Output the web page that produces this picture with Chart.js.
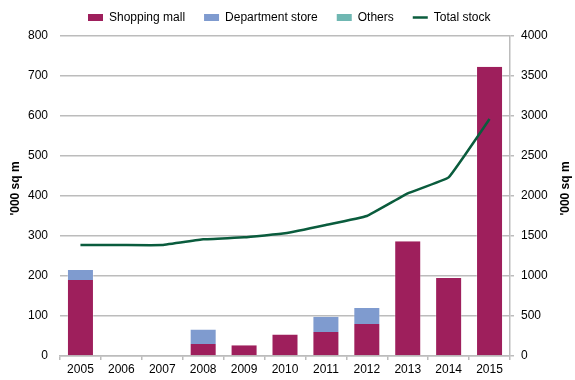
<!DOCTYPE html>
<html><head><meta charset="utf-8">
<script src="https://cdn.jsdelivr.net/npm/chart.js@4.4.0/dist/chart.umd.min.js"></script>
<style>html,body{margin:0;padding:0;background:#fff;}#wrap{width:575px;height:380px;}</style>
</head><body><div id="wrap"><canvas id="c" width="575" height="380"></canvas></div>
<script>
const years = ['2005','2006','2007','2008','2009','2010','2011','2012','2013','2014','2015'];
const shoppingMall = [190, 0, 0, 30, 27, 54, 60, 80, 287, 195, 723];
const departmentStore = [25, 0, 0, 36, 0, 0, 38, 40, 0, 0, 0];
const others = [0, 0, 0, 0, 0, 0, 0, 0, 0, 0, 0];
const totalStock = [1387, 1387, 1387, 1458, 1483, 1533, 1637, 1750, 2033, 2233, 2962];
const leftAxis = { min: 0, max: 800, step: 100 };
const rightAxis = { min: 0, max: 4000, step: 500 };
const axisTitle = "'000 sq m";

const FONT = "'Liberation Sans', Arial, sans-serif";
const GRID = '#bcbcbc';
const EDGE = 'rgba(255,255,255,0.3)';

const legendPlacer = {
  id: 'legendPlacer',
  afterLayout(chart) {
    const lg = chart.legend;
    if (!lg) return;
    const dx = 69 - lg.left; lg.left += dx; lg.right += dx;
    const dy = -7.5 - lg.top; lg.top += dy; lg.bottom += dy;
  }
};

// both axis titles read bottom-to-top, as in the original
const axisTitles = {
  id: 'axisTitles',
  afterDraw(chart) {
    const ctx = chart.ctx, a = chart.chartArea;
    const cy = (a.top + a.bottom) / 2 - 7.5;
    ctx.save();
    ctx.font = 'bold 12px ' + FONT;
    ctx.fillStyle = '#000';
    ctx.textAlign = 'center';
    ctx.textBaseline = 'middle';
    [[16, cy], [chart.width - 9, cy]].forEach(([x, y]) => {
      ctx.save(); ctx.translate(x, y); ctx.rotate(-Math.PI / 2);
      ctx.fillText(axisTitle, 0, 0);
      ctx.restore();
    });
    ctx.restore();
  }
};

new Chart(document.getElementById('c'), {
  data: {
    labels: years,
    datasets: [
      { type: 'bar', label: 'Shopping mall', data: shoppingMall, backgroundColor: '#9e1f5c', borderColor: EDGE, borderWidth: { left: 1, right: 1, top: 0, bottom: 0 }, pointStyle: 'rect', yAxisID: 'y', order: 1 },
      { type: 'bar', label: 'Department store', data: departmentStore, backgroundColor: '#7f9bcf', borderColor: EDGE, borderWidth: { left: 1, right: 1, top: 0, bottom: 0 }, pointStyle: 'rect', yAxisID: 'y', order: 1 },
      { type: 'bar', label: 'Others', data: others, backgroundColor: '#6fb7b2', borderColor: EDGE, borderWidth: 0, pointStyle: 'rect', yAxisID: 'y', order: 1 },
      { type: 'line', label: 'Total stock', data: totalStock, borderColor: '#0a5c3d', backgroundColor: '#0a5c3d', borderWidth: 2.5, pointRadius: 0, pointStyle: 'line', tension: 0.08, yAxisID: 'y2', order: 0 }
    ]
  },
  options: {
    responsive: false,
    animation: false,
    devicePixelRatio: 1,
    layout: { padding: { top: -5, left: 0, right: 0, bottom: 0 } },
    datasets: { bar: { categoryPercentage: 0.66, barPercentage: 1 } },
    plugins: {
      tooltip: { enabled: false },
      legend: {
        position: 'top', align: 'start',
        labels: {
          usePointStyle: true, pointStyleWidth: 15, boxHeight: 7, padding: 19,
          color: '#000', font: { family: FONT, size: 12 },
          sort: (a, b) => a.datasetIndex - b.datasetIndex,
          generateLabels(chart) {
            const items = Chart.defaults.plugins.legend.labels.generateLabels(chart);
            items.forEach(it => { if (it.pointStyle === 'rect') it.lineWidth = 0; });
            return items;
          }
        }
      }
    },
    scales: {
      x: {
        stacked: true,
        offset: true,
        grid: { offset: true, drawOnChartArea: false, drawTicks: true, tickLength: 4, color: GRID, lineWidth: 1.5 },
        border: { display: true, color: GRID, width: 1.5 },
        ticks: { color: '#000', font: { family: FONT, size: 12 }, padding: 2, maxRotation: 0, autoSkip: false },
        afterFit: s => { s.height = 24; }
      },
      y: {
        position: 'left', stacked: true,
        min: leftAxis.min, max: leftAxis.max,
        grid: { color: GRID, lineWidth: 1.5, drawTicks: false },
        border: { display: false },
        ticks: { stepSize: leftAxis.step, color: '#000', font: { family: FONT, size: 12 }, padding: 12, callback: v => String(v) },
        afterFit: s => { s.width = 60; }
      },
      y2: {
        position: 'right',
        min: rightAxis.min, max: rightAxis.max,
        grid: { drawOnChartArea: false, drawTicks: true, tickLength: 4, color: GRID, lineWidth: 1.5 },
        border: { display: true, color: GRID, width: 1.5 },
        ticks: { stepSize: rightAxis.step, color: '#000', font: { family: FONT, size: 12 }, padding: 7, callback: v => String(v) },
        afterFit: s => { s.width = 65; }
      }
    }
  },
  plugins: [legendPlacer, axisTitles]
});
</script></body></html>
